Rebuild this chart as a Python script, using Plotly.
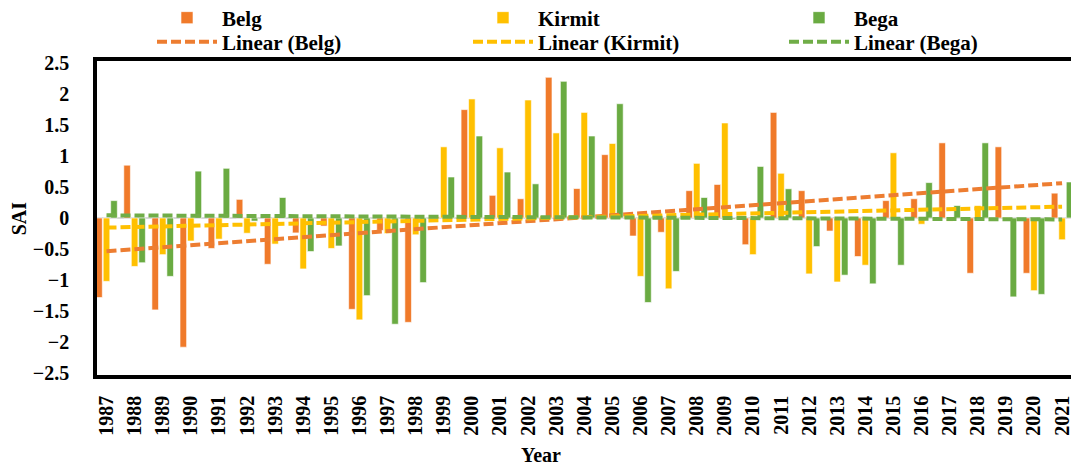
import numpy as np
import plotly.graph_objects as go

years = [str(y) for y in range(1987, 2022)]

belg = [-1.28, 0.85, -1.48, -2.08, -0.49, 0.30, -0.745, -0.24, -0.13, -1.47,
        -0.20, -1.68, 0.02, 1.745, 0.365, 0.31, 2.265, 0.474, 1.02, -0.29,
        -0.23, 0.44, 0.54, -0.43, 1.70, 0.44, -0.21, -0.62, 0.28, 0.31,
        1.21, -0.89, 1.146, -0.89, 0.40]
kirmit = [-1.02, -0.78, -0.59, -0.37, -0.34, -0.245, -0.42, -0.82, -0.49, -1.64,
          -0.25, -0.27, 1.146, 1.917, 1.13, 1.90, 1.37, 1.70, 1.20, -0.94,
          -1.14, 0.88, 1.53, -0.59, 0.72, -0.90, -1.03, -0.76, 1.05, -0.10,
          -0.05, 0.20, 0.01, -1.17, -0.35]
bega = [0.28, -0.72, -0.94, 0.755, 0.80, -0.05, 0.33, -0.54, -0.45, -1.25,
        -1.71, -1.04, 0.66, 1.32, 0.74, 0.55, 2.20, 1.32, 1.84, -1.36,
        -0.86, 0.33, -0.02, 0.83, 0.47, -0.46, -0.92, -1.06, -0.76, 0.57,
        0.20, 1.21, -1.27, -1.23, 0.58]

series = [("Belg", belg, "#F07A2A", "#ED7D31"),
          ("Kirmit", kirmit, "#FFC000", "#FFC000"),
          ("Bega", bega, "#6AAB42", "#70AD47")]

W, H = 1071, 466
ML, MR, MT, MB = 96.5, 0, 61.25, 90.7
PW = W - ML - MR
PH = H - MT - MB
CAT = 28.12          # pixel width of one year slot
FIRST = 106          # pixel centre of the first year

def px_x(px):
    return (px - ML) / PW

def px_y(py):
    return (H - MB - py) / PH

FONT = dict(family="Liberation Serif", size=20, color="black", weight="bold")
LFONT = dict(family="Liberation Serif", size=21, color="black", weight="bold")

fig = go.Figure()
for name, vals, bcol, lcol in series:
    fig.add_trace(go.Bar(x=years, y=vals, name=name, marker_color=bcol,
                         marker_line=dict(color="white", width=0.6),
                         legend="legend"))

idx = np.arange(1, len(years) + 1)
for name, vals, bcol, lcol in series:
    slope, intercept = np.polyfit(idx, np.array(vals), 1)
    trend = slope * idx + intercept
    fig.add_trace(go.Scatter(x=years, y=trend, mode="lines",
                             name=f"Linear ({name})",
                             line=dict(color=lcol, width=4, dash="10px,4px"),
                             legend="legend2"))

leg_common = dict(orientation="h", font=LFONT, bgcolor="rgba(0,0,0,0)",
                  itemwidth=60, entrywidth=241, entrywidthmode="pixels",
                  xref="container", yref="container",
                  xanchor="left", yanchor="middle", itemclick=False,
                  x=(223 - 71) / W)
fig.update_layout(
    legend=dict(y=1 - 18 / H, **leg_common),
    legend2=dict(y=1 - 42 / H, **leg_common),
)

x0 = (ML - FIRST) / CAT
x1 = x0 + PW / CAT
ypad = 1.75 / (PH / 5.0)

fig.update_layout(
    width=W, height=H,
    margin=dict(l=ML, r=MR, t=MT, b=MB, autoexpand=False),
    paper_bgcolor="white", plot_bgcolor="white",
    barmode="group", bargap=0.2, bargroupgap=0.12,
    font=FONT,
    showlegend=True,
    xaxis=dict(type="category", range=[x0, x1],
               tickangle=-90, tickfont=FONT, showgrid=False, automargin=False,
               showline=True, linecolor="black", linewidth=3.5, mirror=True,
               ticks="", ticklabelstandoff=9),
    yaxis=dict(range=[-2.5 - ypad, 2.5 + ypad], tickvals=[-2.5, -2, -1.5, -1, -0.5, 0, 0.5, 1, 1.5, 2, 2.5],
               tickfont=FONT, showgrid=False, automargin=False,
               showline=True, linecolor="black", linewidth=3.5, mirror=False,
               zeroline=True, zerolinecolor="#D9D9D9", zerolinewidth=1.5,
               ticks="", ticklabelstandoff=20),
    annotations=[
        dict(text="Year", x=px_x(541), y=px_y(455), xref="paper", yref="paper",
             showarrow=False, font=FONT, xanchor="center", yanchor="middle"),
        dict(text="SAI", x=px_x(18), y=px_y(219), xref="paper", yref="paper",
             showarrow=False, font=FONT, textangle=-90,
             xanchor="center", yanchor="middle"),
    ],
)

fig.write_html("out.html", config={"displayModeBar": False},
               post_script="document.body.style.margin='0';"
                           "document.body.style.overflow='hidden';")
